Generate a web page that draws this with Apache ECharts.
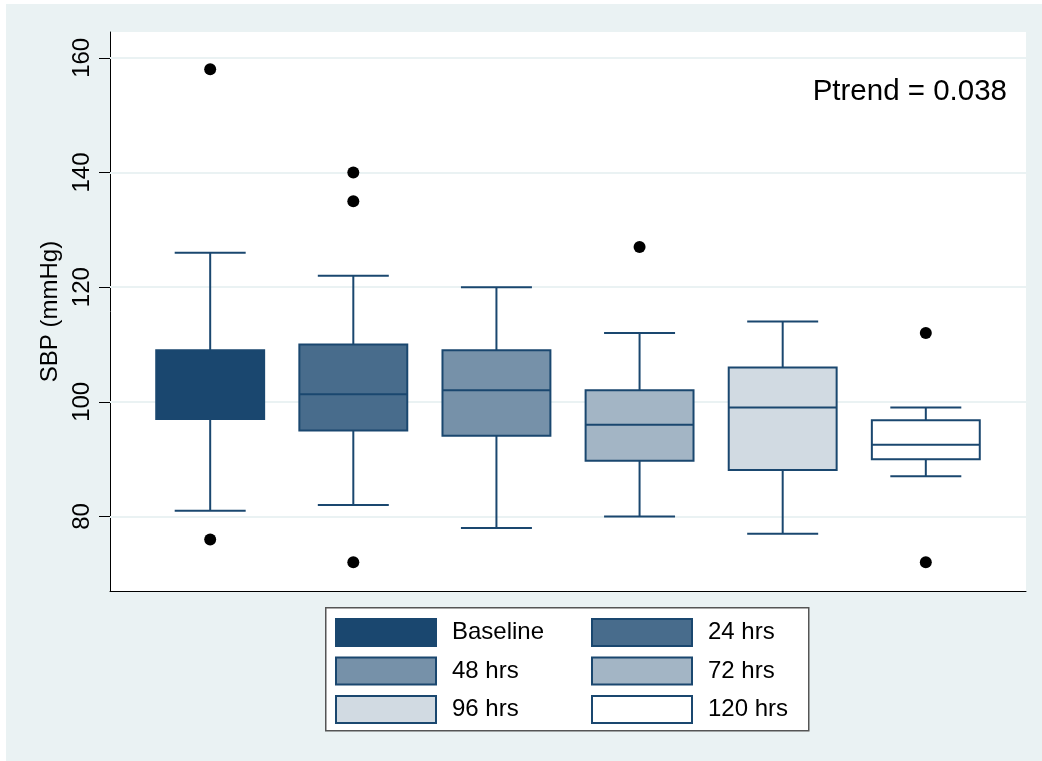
<!DOCTYPE html>
<html><head><meta charset="utf-8">
<script src="https://cdn.jsdelivr.net/npm/echarts@6/dist/echarts.min.js"></script>
<style>
html,body{margin:0;padding:0;background:#fff;}
#wrap{position:relative;width:1042px;height:761px;overflow:hidden;}
#bg{position:absolute;left:6px;top:4px;right:0;bottom:0;background:#EAF2F3;}
#chart{position:absolute;left:0;top:0;width:1042px;height:761px;}
</style></head><body>
<div id="wrap"><div id="bg"></div><div id="chart"></div></div>
<script>
// ---- data ----
const groups = ['Baseline', '24 hrs', '48 hrs', '72 hrs', '96 hrs', '120 hrs'];
// [lower whisker, q1, median, q3, upper whisker]
const boxBaseline = [81, 97, 101, 109, 126];
const box24 = [82, 95, 101.3, 110, 122];
const box48 = [78, 94.1, 102, 109, 120];
const box72 = [80, 89.7, 96, 102, 112];
const box96 = [77, 88.1, 99, 106, 114];
const box120 = [87, 90, 92.5, 96.8, 99];
const boxStats = [boxBaseline, box24, box48, box72, box96, box120];
// outliers: [group position (1..6), value]
const outliers = [[1, 158], [1, 76], [2, 140], [2, 135], [2, 72], [4, 127], [6, 112], [6, 72]];
const yTicks = [80, 100, 120, 140, 160];
const yAxisTitle = 'SBP (mmHg)';
const pTrendText = 'Ptrend = 0.038';

// ---- styles ----
const LINE = '#1A476F';
const FILLS = ['#1A476F', '#486C8C', '#7691A9', '#A3B5C5', '#D1DAE2', '#FFFFFF'];
const FONT = '"Liberation Sans", Arial, sans-serif';
const BOX_HALF = 0.377;
const CAP_HALF = 0.248;

function makeRender(fill) {
  return function (params, api) {
    const x = api.value(0);
    const pMin = api.coord([x, api.value(1)]);
    const pQ1 = api.coord([x, api.value(2)]);
    const pMed = api.coord([x, api.value(3)]);
    const pQ3 = api.coord([x, api.value(4)]);
    const pMax = api.coord([x, api.value(5)]);
    const unit = api.size([1, 0])[0];
    const hb = unit * BOX_HALF, hc = unit * CAP_HALF;
    const cx = pMed[0];
    const ls = { stroke: LINE, lineWidth: 2 };
    return {
      type: 'group',
      children: [
        { type: 'line', shape: { x1: cx, y1: pQ3[1], x2: cx, y2: pMax[1] }, style: ls },
        { type: 'line', shape: { x1: cx, y1: pQ1[1], x2: cx, y2: pMin[1] }, style: ls },
        { type: 'line', shape: { x1: cx - hc, y1: pMax[1], x2: cx + hc, y2: pMax[1] }, style: ls },
        { type: 'line', shape: { x1: cx - hc, y1: pMin[1], x2: cx + hc, y2: pMin[1] }, style: ls },
        { type: 'rect', shape: { x: cx - hb, y: pQ3[1], width: 2 * hb, height: pQ1[1] - pQ3[1] },
          style: { fill: fill, stroke: LINE, lineWidth: 2 } },
        { type: 'line', shape: { x1: cx - hb, y1: pMed[1], x2: cx + hb, y2: pMed[1] }, style: ls }
      ]
    };
  };
}

const boxSeries = groups.map((g, i) => ({
  name: g,
  type: 'custom',
  z: 3,
  renderItem: makeRender(FILLS[i]),
  itemStyle: { color: FILLS[i], borderColor: LINE },
  encode: { x: 0, y: [1, 2, 3, 4, 5] },
  data: [[i + 1].concat(boxStats[i])]
}));

function legendItem(i) {
  return { name: groups[i], icon: 'rect', itemStyle: { color: FILLS[i], borderColor: LINE, borderWidth: 2 } };
}
const legendCommon = {
  orient: 'vertical', top: 618, padding: 0,
  itemWidth: 100, itemHeight: 27, itemGap: 9.5, selectedMode: false,
  textStyle: { fontFamily: FONT, fontSize: 24, color: '#000', padding: [0, 0, 0, 11] }
};

const chart = echarts.init(document.getElementById('chart'), null, { renderer: 'canvas' });
chart.setOption({
  animation: false,
  backgroundColor: 'transparent',
  textStyle: { fontFamily: FONT },
  title: {
    text: pTrendText, right: 35, top: 77, padding: 0,
    textStyle: { fontFamily: FONT, fontSize: 29.5, fontWeight: 'normal', color: '#000' }
  },
  graphic: [{
    type: 'rect', left: 325, top: 607, z: 0,
    shape: { width: 483, height: 123 },
    style: { fill: '#fff', stroke: '#555', lineWidth: 1.5 }
  }],
  grid: { left: 110, top: 32, right: 16, bottom: 170, show: true, backgroundColor: '#fff', borderWidth: 0 },
  xAxis: {
    type: 'value', min: 0.3, max: 6.7,
    axisLine: { show: true, onZero: false, lineStyle: { color: '#000', width: 1 } },
    axisTick: { show: false }, axisLabel: { show: false }, splitLine: { show: false }
  },
  yAxis: {
    type: 'value', min: 67, max: 164.5,
    name: yAxisTitle, nameLocation: 'middle', nameRotate: 90, nameGap: 46,
    nameTextStyle: { fontFamily: FONT, fontSize: 24, color: '#000' },
    axisLine: { show: true, onZero: false, lineStyle: { color: '#000', width: 1 } },
    axisTick: { show: true, length: 11, customValues: yTicks, lineStyle: { color: '#000', width: 1 } },
    axisLabel: { customValues: yTicks, rotate: 90, margin: 16, fontFamily: FONT, fontSize: 24, color: '#000' },
    splitLine: { show: false }
  },
  legend: [
    Object.assign({ left: 335, data: [0, 2, 4].map(legendItem) }, legendCommon),
    Object.assign({ left: 591, data: [1, 3, 5].map(legendItem) }, legendCommon)
  ],
  series: [
    {
      name: 'gridlines', type: 'line', data: [], z: 1, silent: true,
      markLine: {
        z: 1, silent: true, symbol: 'none', label: { show: false },
        lineStyle: { color: '#EAF2F3', width: 2, type: 'solid' },
        data: yTicks.map(v => ({ yAxis: v }))
      }
    }
  ].concat(boxSeries).concat([{
    name: 'outliers', type: 'scatter', z: 4,
    symbol: 'circle', symbolSize: 12,
    itemStyle: { color: '#000', opacity: 1 },
    data: outliers
  }])
});
</script>
</body></html>
